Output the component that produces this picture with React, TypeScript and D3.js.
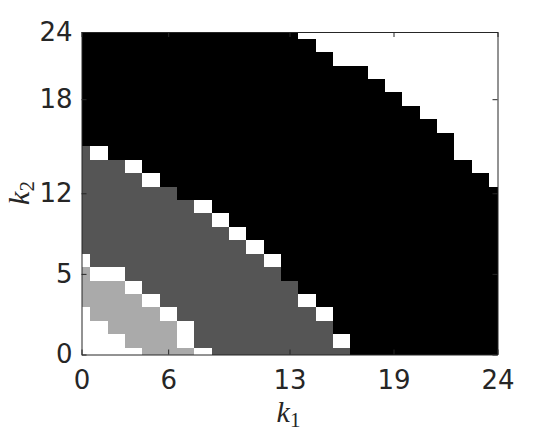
import React, { useRef, useEffect } from 'react';
import * as d3 from 'd3';

// gray level of each cell: 0 black, 1 dark gray, 2 light gray, 3 white
// rows go from k2 = 24 (top) down to k2 = 0, columns are k1 = 0..24
const gridRows = [
  '0000000000000333333333333',
  '0000000000000033333333333',
  '0000000000000003333333333',
  '0000000000000000033333333',
  '0000000000000000003333333',
  '0000000000000000000333333',
  '0000000000000000000033333',
  '0000000000000000000003333',
  '0000000000000000000000333',
  '1300000000000000000000333',
  '1113000000000000000000033',
  '1111300000000000000000003',
  '1111110000000000000000000',
  '1111111300000000000000000',
  '1111111130000000000000000',
  '1111111113000000000000000',
  '1111111111300000000000000',
  '3111111111130000000000000',
  '2331111111110000000000000',
  '2223111111111000000000000',
  '2222311111111300000000000',
  '3222231111111130000000000',
  '3322223111111110000000000',
  '3332223111111113000000000',
  '3333222311111111000000000',
];

// tick positions (grid index) and the labels shown there
const xTickPos = [0, 5, 12, 18, 24];
const xTickLabels = ['0', '6', '13', '19', '24'];
const yTickPos = [0, 6, 12, 19, 24];
const yTickLabels = ['0', '5', '12', '18', '24'];

const width = 550;
const height = 432;
const margin = { top: 32, right: 52.5, bottom: 77.5, left: 81.5 };
const axisColor = '#262626';
const tickFont = '"DejaVu Sans", sans-serif';
const labelFont = '"Liberation Serif", "DejaVu Serif", serif';

const App = () => {
  const svgRef = useRef<SVGSVGElement>(null);

  useEffect(() => {
    const svg = d3.select(svgRef.current);
    svg.selectAll('*').remove();

    const x = d3.scaleLinear().domain([0, 24]).range([margin.left, width - margin.right]);
    const y = d3.scaleLinear().domain([0, 24]).range([height - margin.bottom, margin.top]);
    const color = d3.scaleLinear<string>().domain([0, 3]).range(['#000000', '#ffffff']);

    const cells = gridRows.flatMap((row, r) =>
      row.split('').map((v, c) => ({ k1: c, k2: 24 - r, level: +v }))
    );
    const lo = (v: number) => Math.max(0, v - 0.5);
    const hi = (v: number) => Math.min(24, v + 0.5);

    // cells
    svg.append('g')
      .attr('shape-rendering', 'crispEdges')
      .selectAll('rect')
      .data(cells)
      .enter()
      .append('rect')
      .attr('x', d => x(lo(d.k1)))
      .attr('y', d => y(hi(d.k2)))
      .attr('width', d => x(hi(d.k1)) - x(lo(d.k1)))
      .attr('height', d => y(lo(d.k2)) - y(hi(d.k2)))
      .attr('fill', d => color(d.level));

    const styleAxis = (g: any) => {
      g.attr('font-family', tickFont).attr('font-size', 26);
      g.selectAll('path, line').attr('stroke', axisColor).attr('stroke-width', 1);
      g.selectAll('text').attr('fill', axisColor);
    };

    // bottom axis
    svg.append('g')
      .attr('transform', `translate(0,${y(0)})`)
      .call(d3.axisBottom(x).tickValues(xTickPos)
        .tickFormat((_d, i) => xTickLabels[i])
        .tickSizeInner(-5).tickSizeOuter(0).tickPadding(16))
      .call(styleAxis);

    // left axis
    svg.append('g')
      .attr('transform', `translate(${x(0)},0)`)
      .call(d3.axisLeft(y).tickValues(yTickPos)
        .tickFormat((_d, i) => yTickLabels[i])
        .tickSizeInner(-5).tickSizeOuter(0).tickPadding(9))
      .call(styleAxis);

    // top and right box sides with ticks
    svg.append('g')
      .attr('transform', `translate(0,${y(24)})`)
      .call(d3.axisTop(x).tickValues(xTickPos).tickFormat(() => '')
        .tickSizeInner(-5).tickSizeOuter(0))
      .call(styleAxis);

    svg.append('g')
      .attr('transform', `translate(${x(24)},0)`)
      .call(d3.axisRight(y).tickValues(yTickPos).tickFormat(() => '')
        .tickSizeInner(-5).tickSizeOuter(0))
      .call(styleAxis);

    // axis labels
    const xl = svg.append('text')
      .attr('x', 288.5)
      .attr('y', 421.5)
      .attr('text-anchor', 'middle')
      .attr('font-family', labelFont)
      .attr('font-size', 30)
      .attr('fill', axisColor);
    xl.append('tspan').attr('font-style', 'italic').text('k');
    xl.append('tspan').attr('font-size', 21).attr('dy', 5).text('1');

    const yl = svg.append('text')
      .attr('transform', 'translate(29,193) rotate(-90)')
      .attr('text-anchor', 'middle')
      .attr('font-family', labelFont)
      .attr('font-size', 30)
      .attr('fill', axisColor);
    yl.append('tspan').attr('font-style', 'italic').text('k');
    yl.append('tspan').attr('font-size', 21).attr('dy', 5).text('2');
  }, []);

  return (
    <svg
      ref={svgRef}
      width={width}
      height={height}
      style={{ position: 'absolute', left: 0, top: 0, background: '#ffffff' }}
    ></svg>
  );
};

export default App;
